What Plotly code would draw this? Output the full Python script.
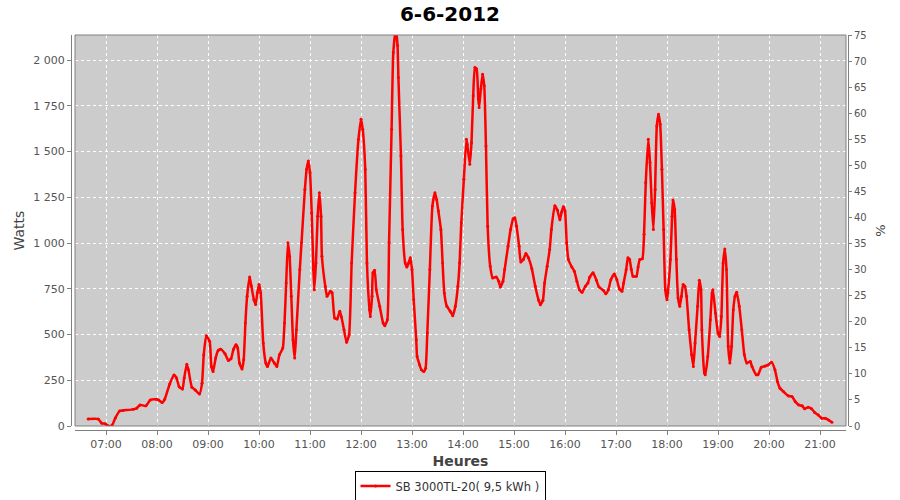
import plotly.graph_objects as go

DAY = "2012-06-06"

times = [
    "06:39", "06:51", "06:55", "06:59", "07:03", "07:07", "07:11", "07:16", "07:20", "07:32",
    "07:36", "07:40", "07:47", "07:52", "07:59", "08:02", "08:06", "08:09", "08:15", "08:20",
    "08:23", "08:26", "08:30", "08:32", "08:35", "08:37", "08:41", "08:45", "08:50", "08:53",
    "08:55", "08:58", "09:02", "09:04", "09:06", "09:09", "09:12", "09:15", "09:20", "09:24",
    "09:27", "09:30", "09:33", "09:35", "09:37", "09:40", "09:42", "09:44", "09:46", "09:49",
    "09:51", "09:54", "09:56", "09:58", "10:00", "10:02", "10:05", "10:08", "10:10", "10:14",
    "10:18", "10:21", "10:24", "10:28", "10:30", "10:32", "10:34", "10:36", "10:38", "10:40",
    "10:42", "10:44", "10:48", "10:50", "10:54", "10:56", "10:58", "11:00", "11:02", "11:04",
    "11:05", "11:07", "11:09", "11:11", "11:13", "11:14", "11:18", "11:20", "11:24", "11:26",
    "11:29", "11:32", "11:35", "11:37", "11:40", "11:43", "11:46", "11:49", "11:53", "11:57",
    "12:00", "12:02", "12:05", "12:07", "12:10", "12:11", "12:13", "12:14", "12:16", "12:18",
    "12:22", "12:26", "12:28", "12:31", "12:33", "12:36", "12:38", "12:41", "12:43", "12:44",
    "12:47", "12:49", "12:52", "12:54", "12:56", "12:58", "13:00", "13:02", "13:05", "13:06",
    "13:09", "13:11", "13:14", "13:16", "13:18", "13:21", "13:24", "13:27", "13:29", "13:31",
    "13:34", "13:36", "13:38", "13:41", "13:45", "13:48", "13:51", "13:54", "13:56", "13:58",
    "14:01", "14:04", "14:05", "14:08", "14:10", "14:12", "14:14", "14:16", "14:18", "14:19",
    "14:21", "14:23", "14:25", "14:27", "14:29", "14:32", "14:35", "14:39", "14:42", "14:44",
    "14:47", "14:49", "14:53", "14:56", "14:59", "15:01", "15:03", "15:06", "15:08", "15:11",
    "15:14", "15:17", "15:21", "15:25", "15:29", "15:31", "15:34", "15:36", "15:39", "15:42",
    "15:44", "15:48", "15:51", "15:54", "15:56", "15:58", "16:00", "16:02", "16:04", "16:08",
    "16:11", "16:14", "16:17", "16:20", "16:24", "16:27", "16:29", "16:33", "16:37", "16:40",
    "16:45", "16:48", "16:51", "16:54", "16:58", "17:01", "17:04", "17:07", "17:09", "17:12",
    "17:14", "17:16", "17:18", "17:20", "17:24", "17:26", "17:28", "17:31", "17:33", "17:35",
    "17:38", "17:40", "17:42", "17:44", "17:46", "17:48", "17:50", "17:52", "17:54", "17:56",
    "17:58", "18:00", "18:01", "18:04", "18:06", "18:07", "18:09", "18:11", "18:13", "18:15",
    "18:17", "18:19", "18:21", "18:23", "18:26", "18:29", "18:31", "18:33", "18:36", "18:38",
    "18:40", "18:41", "18:44", "18:45", "18:48", "18:51", "18:53", "18:54", "18:57", "19:00",
    "19:02", "19:04", "19:06", "19:08", "19:10", "19:12", "19:14", "19:16", "19:18", "19:20",
    "19:22", "19:25", "19:28", "19:31", "19:34", "19:38", "19:40", "19:45", "19:47", "19:51",
    "19:55", "19:59", "20:03", "20:07", "20:10", "20:13", "20:17", "20:23", "20:27", "20:31",
    "20:35", "20:39", "20:42", "20:46", "20:50", "20:54", "20:58", "21:02", "21:06", "21:10",
    "21:14",
]

watts = [
    38, 38, 15, 12, 0, 3, 44, 82, 85, 91,
    97, 115, 110, 142, 146, 142, 128, 146, 230, 279,
    262, 215, 202, 262, 338, 307, 212, 197, 175, 234,
    389, 493, 462, 325, 298, 371, 413, 420, 395, 358,
    367, 420, 444, 426, 344, 311, 362, 563, 709, 815,
    765, 690, 664, 728, 773, 728, 453, 344, 325, 371,
    344, 325, 389, 426, 563, 782, 1001, 928, 709, 472,
    371, 526, 855, 1001, 1293, 1403, 1449, 1385, 1165, 855,
    745, 891, 1147, 1275, 1147, 928, 763, 709, 737, 728,
    590, 585, 627, 596, 526, 458, 499, 891, 1275, 1567,
    1677, 1622, 1403, 891, 636, 599, 709, 837, 851, 745,
    654, 563, 548, 581, 1001, 1622, 2042, 2170, 2079, 1905,
    1476, 1074, 891, 869, 891, 919, 855, 690, 471, 380,
    334, 307, 298, 316, 508, 855, 1202, 1275, 1238, 1175,
    1074, 891, 727, 654, 627, 603, 654, 764, 891, 1111,
    1348, 1567, 1540, 1430, 1549, 1805, 1960, 1951, 1787, 1741,
    1842, 1923, 1859, 1531, 1092, 873, 809, 815, 791, 760,
    791, 855, 983, 1074, 1133, 1138, 1092, 983, 897, 910,
    943, 919, 859, 764, 687, 663, 687, 782, 873, 965,
    1074, 1204, 1180, 1127, 1169, 1198, 1175, 1001, 910, 869,
    846, 791, 745, 731, 764, 782, 813, 837, 796, 760,
    742, 723, 745, 800, 831, 800, 749, 736, 782, 855,
    919, 910, 855, 818, 818, 869, 910, 914, 1048, 1330,
    1567, 1440, 1220, 1074, 1293, 1640, 1704, 1649, 1403, 1074,
    745, 690, 727, 910, 1147, 1235, 1184, 910, 699, 654,
    709, 773, 764, 709, 526, 389, 325, 453, 654, 796,
    745, 526, 289, 280, 380, 581, 727, 745, 618, 508,
    489, 599, 891, 968, 855, 435, 344, 435, 636, 709,
    731, 654, 526, 389, 344, 353, 325, 280, 280, 321,
    327, 334, 349, 307, 243, 206, 188, 164, 161, 133,
    115, 110, 94, 103, 94, 73, 60, 42, 42, 33,
    20,
]

series_name = "SB 3000TL-20( 9,5 kWh )"
title_text = "6-6-2012"
left_tick_vals = [0, 250, 500, 750, 1000, 1250, 1500, 1750, 2000]
left_tick_text = ["0", "250", "500", "750", "1 000", "1 250", "1 500", "1 750", "2 000"]
right_tick_vals = list(range(0, 80, 5))
watts_max = 2137
pct_max = 75

x = [f"{DAY} {t}" for t in times]

fig = go.Figure()
fig.add_trace(go.Scatter(
    x=x, y=watts, name=series_name, mode="lines+markers",
    line=dict(color="#ff0000", width=2.5, shape="spline", smoothing=0.5),
    marker=dict(color="#ff0000", size=3),
    cliponaxis=True,
))
# invisible trace to activate the right-hand % axis
fig.add_trace(go.Scatter(
    x=[x[0]], y=[0], yaxis="y2", mode="lines", showlegend=False,
    line=dict(color="rgba(0,0,0,0)"), hoverinfo="skip",
))

W, H = 900, 500
ml, mr, mt, mb = 71, 52, 35, 70
pw = W - ml - mr
ph = H - mt - mb
grid = dict(gridcolor="white", griddash="3px,3px", gridwidth=1)
tickfont = dict(family="DejaVu Sans", size=11, color="#555555")
labcol = "#444444"

fig.update_layout(
    width=W, height=H,
    margin=dict(l=ml, r=mr, t=mt, b=mb, autoexpand=False),
    paper_bgcolor="white",
    plot_bgcolor="#cccccc",
    title=dict(text=title_text, x=0.5, xanchor="center", xref="container",
               y=1 - 14 / H, yanchor="middle", yref="container", automargin=False,
               font=dict(family="DejaVu Sans", size=20, color="black", weight="bold")),
    xaxis=dict(
        type="date", domain=[4 / pw, 1 - 2 / pw], anchor="free", position=0,
        range=[f"{DAY} 06:23:32", f"{DAY} 21:30:35"],
        tick0=f"{DAY} 07:00", dtick=3600000, tickformat="%H:%M",
        showline=True, linecolor="#808080", linewidth=1,
        ticks="outside", ticklen=4, tickcolor="#808080",
        tickfont=tickfont, automargin=False,
        title=dict(text="Heures", font=dict(family="DejaVu Sans", size=14, color=labcol, weight="bold"), standoff=5),
        zeroline=False, **grid,
    ),
    yaxis=dict(
        domain=[4 / ph, 1], anchor="free", position=0,
        range=[0, watts_max],
        tickvals=left_tick_vals, ticktext=left_tick_text,
        showline=True, linecolor="#808080", linewidth=1,
        ticks="outside", ticklen=4, tickcolor="#808080",
        tickfont=tickfont, automargin=False,
        title=dict(text="Watts", font=dict(family="DejaVu Sans", size=14, color=labcol), standoff=4),
        zeroline=False, **grid,
    ),
    yaxis2=dict(
        overlaying="y", side="right", anchor="free", position=1,
        range=[0, pct_max], tickvals=right_tick_vals,
        showline=True, linecolor="#808080", linewidth=1,
        ticks="outside", ticklen=3, tickcolor="#808080",
        tickfont=dict(family="DejaVu Sans", size=10, color="#555555"), automargin=False,
        title=dict(text="%", font=dict(family="DejaVu Sans", size=13, color=labcol), standoff=10),
        showgrid=False, zeroline=False,
    ),
    showlegend=True,
    legend=dict(
        orientation="h", x=0.5, xanchor="center", xref="container",
        y=(H - 486) / H, yanchor="middle", yref="container",
        bordercolor="black", borderwidth=1, bgcolor="white",
        font=dict(family="DejaVu Sans", size=11.5, color="#333333"),
        itemwidth=30, tracegroupgap=0,
    ),
)

fig.add_shape(type="rect", xref="x domain", yref="y domain", x0=0, x1=1, y0=0, y1=1,
              line=dict(color="#808080", width=1), fillcolor="rgba(0,0,0,0)", layer="above")

fig.write_html("out.html", config={"displayModeBar": False},
               post_script="document.body.style.margin='0';document.body.style.overflow='hidden';")
